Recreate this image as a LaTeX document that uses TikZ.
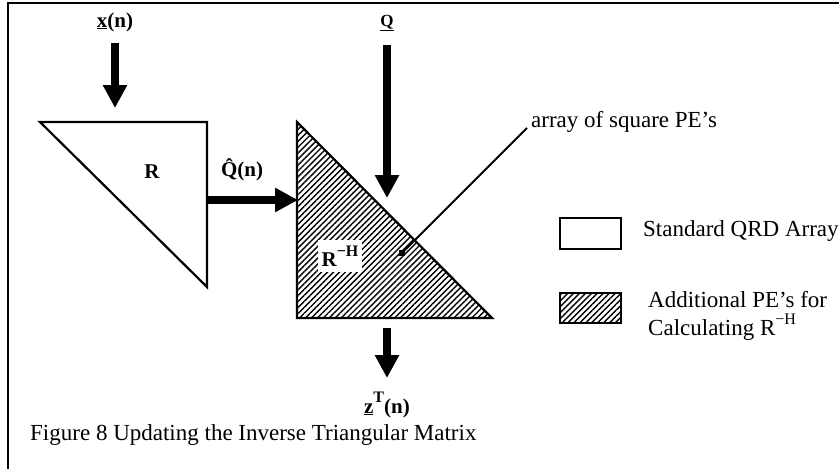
\documentclass[tikz,border=0pt]{standalone}
\usepackage{fontspec}
\setmainfont{Liberation Serif}
\usetikzlibrary{arrows.meta,patterns.meta}
\newcommand\mysup[1]{\raisebox{0.48em}{\fontsize{16}{16}\selectfont #1}}
\tikzset{
  txt/.style={font=\fontsize{23}{27}\selectfont, inner sep=0pt},
  lbl/.style={font=\bfseries\fontsize{21}{25}\selectfont, inner sep=0pt},
  bigarrow/.style={line width=8pt, -{Triangle[width=23pt,length=23pt]}},
  tri/.style={draw, line width=2.2pt, line join=miter},
  hatch/.style={pattern={Lines[angle=45,distance=4.2pt,line width=1.4pt]}},
}
\begin{document}
\begin{tikzpicture}[x=1pt,y=-1pt]
\useasboundingbox (0,0) rectangle (839,469);
% frame
\draw[line width=1.3pt] (839,3) -- (8,3) -- (8,469);
% R triangle
\coordinate (ra) at (40,122);
\coordinate (rb) at (207,122);
\coordinate (rc) at (207,287);
\draw[tri] (ra) -- (rb) -- (rc) -- cycle;
\node[lbl] (rlab) at (152,172) {R};
% input x(n)
\node[lbl] (xin) at (115,22) {\underline{x}(n)};
\coordinate (xtip) at (115,108);
\draw[bigarrow] (xin.south |- 0,43) -- (xtip);
% hatched triangle
\coordinate (ha) at (297,122);
\coordinate (hb) at (297,318);
\coordinate (hc) at (492,318);
\draw[tri, hatch] (ha) -- (hb) -- (hc) -- cycle;
\node[lbl, fill=white, inner xsep=4pt, inner ysep=6pt] (rhlab) at (340,256) {R\mysup{−H}};
% Q-hat arrow
\coordinate (qs) at (207,200);
\coordinate (qe) at (298,200);
\draw[bigarrow] (qs) -- (qe);
\node[lbl] (qhat) at (242,170) {\^{Q}(n)};
% Q input
\node[lbl, font=\bfseries\fontsize{17}{20}\selectfont] (qin) at (387,23) {\underline{Q}};
\coordinate (qtip) at (387,198);
\draw[bigarrow] (387,45) -- (qtip);
% output
\coordinate (os) at (387,328);
\coordinate (oe) at (387,378);
\draw[bigarrow] (os) -- (oe);
\node[lbl] (zout) at (387,405) {\underline{z}\mysup{T}(n)};
% leader
\node[fill=black, minimum size=6pt, inner sep=0pt] (dot) at (402,253) {};
\node[txt, anchor=west] (arr) at (531,122) {array of square PE's};
\coordinate (lend) at (527,128);
\draw[line width=2pt] (dot.center) -- (lend);
% legend
\node[draw, line width=2pt, minimum width=61pt, minimum height=31pt, inner sep=0pt] (leg1) at (590.5,233.5) {};
\node[draw, line width=2pt, hatch, minimum width=61pt, minimum height=30pt, inner sep=0pt] (leg2) at (590.5,308) {};
\node[txt, anchor=west] (t1) at (643,231) {Standard QRD Array};
\node[txt, anchor=west] (t2) at (648,300) {Additional PE's for};
\node[txt, anchor=west] (t3) at (648,327) {Calculating R\mysup{−H}};
% caption
\node[txt, anchor=west] (cap) at (30,435) {Figure 8 Updating the Inverse Triangular Matrix};
\end{tikzpicture}
\end{document}
